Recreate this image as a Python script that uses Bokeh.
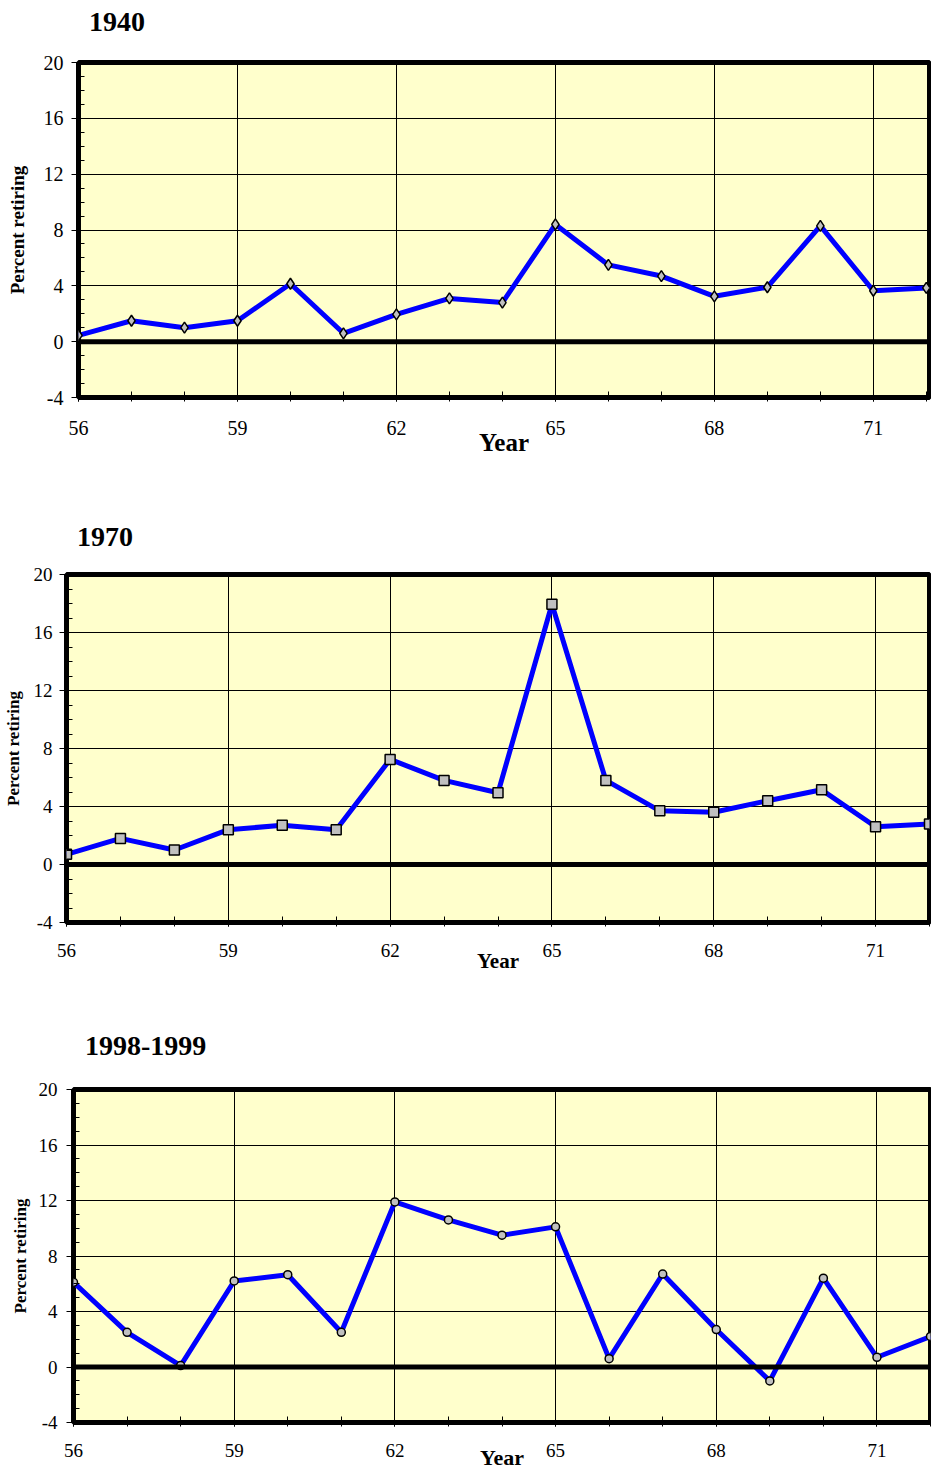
from bokeh.plotting import figure
from bokeh.models import FixedTicker, Span, Range1d, Div
from bokeh.embed import file_html
from bokeh.resources import INLINE

# ---- data ----
years = list(range(56, 73))
pct_1940 = [0.45, 1.5, 1.0, 1.5, 4.15, 0.6, 1.95, 3.1, 2.8, 8.4, 5.5, 4.7, 3.25, 3.9, 8.3, 3.65, 3.85]
pct_1970 = [0.7, 1.8, 1.0, 2.4, 2.7, 2.4, 7.25, 5.8, 4.95, 17.95, 5.8, 3.7, 3.6, 4.4, 5.15, 2.6, 2.8]
pct_1998 = [6.1, 2.5, 0.1, 6.2, 6.65, 2.5, 11.9, 10.6, 9.5, 10.1, 0.6, 6.7, 2.7, -1.0, 6.4, 0.7, 2.2]
titles = ["1940", "1970", "1998-1999"]
x_tick_labels = [56, 59, 62, 65, 68, 71]
y_tick_labels = [-4, 0, 4, 8, 12, 16, 20]
x_label = "Year"
y_label = "Percent retiring"

FONT = "Liberation Serif"


def make_title(title, cfg):
    html = ('<div style="padding-left:%dpx; padding-top:%dpx; font-family:\'Liberation Serif\'; '
            'font-size:%s; font-weight:bold; line-height:1; color:black; white-space:nowrap;">%s</div>'
            % (cfg["tleft"], cfg["ttop"], cfg["title_fs"], title))
    return Div(text=html, width=931, height=cfg["th"], margin=(0, 0, 0, 0))


def make_panel(values, marker, cfg):
    p = figure(width=931, height=cfg["h"], output_backend="svg", toolbar_location=None,
               x_range=Range1d(56, cfg["xmax"]), y_range=Range1d(-4, 20),
               min_border_left=cfg["bl"], min_border_right=cfg["br"],
               min_border_top=cfg["bt"], min_border_bottom=cfg["bb"])
    p.background_fill_color = "#FFFFCC"
    p.border_fill_color = "white"
    p.outline_line_color = "black"
    p.outline_line_width = 5

    # x axis
    xa = p.below[0]
    xa.ticker = FixedTicker(ticks=x_tick_labels, minor_ticks=years)
    xa.axis_line_color = None
    xa.major_tick_in = 6
    xa.major_tick_out = 4
    xa.minor_tick_in = 6
    xa.minor_tick_out = 4
    xa.major_tick_line_color = "black"
    xa.minor_tick_line_color = "black"
    xa.major_label_text_font = FONT
    xa.major_label_text_font_size = cfg["tick_fs"]
    xa.major_label_text_color = "black"
    xa.major_label_standoff = cfg["xstand"]
    xa.axis_label = x_label
    xa.axis_label_text_font = FONT
    xa.axis_label_text_font_style = "bold"
    xa.axis_label_text_font_size = cfg["xlab_fs"]
    xa.axis_label_text_color = "black"
    xa.axis_label_standoff = cfg["xlab_stand"]

    # y axis
    ya = p.left[0]
    ya.ticker = FixedTicker(ticks=y_tick_labels, minor_ticks=list(range(-4, 21)))
    ya.major_label_overrides = {v: str(v) for v in y_tick_labels}
    ya.axis_line_color = None
    ya.major_tick_in = 0
    ya.major_tick_out = 7
    ya.minor_tick_in = 6
    ya.minor_tick_out = 0
    ya.major_tick_line_color = "black"
    ya.minor_tick_line_color = "black"
    ya.major_label_text_font = FONT
    ya.major_label_text_font_size = cfg["tick_fs"]
    ya.major_label_text_color = "black"
    ya.major_label_standoff = cfg["ystand"]
    ya.axis_label = y_label
    ya.axis_label_text_font = FONT
    ya.axis_label_text_font_style = "bold"
    ya.axis_label_text_font_size = cfg["ylab_fs"]
    ya.axis_label_text_color = "black"
    ya.axis_label_standoff = cfg["ylab_stand"]

    p.xgrid.grid_line_color = "black"
    p.xgrid.grid_line_width = 1
    p.ygrid.grid_line_color = "black"
    p.ygrid.grid_line_width = 1

    p.add_layout(Span(location=0, dimension="width", line_color="black", line_width=5))

    p.line(years, values, line_color="#0000FF", line_width=5)
    p.scatter(years, values, marker=marker, size=cfg["msize"], fill_color="#C0C0C0",
              line_color="black", line_width=1.5)
    return p


cfg1 = dict(th=40, tleft=89, ttop=8, h=480, xmax=72.06, bl=78, br=2, bt=22, bb=123,
            tick_fs="20px", xstand=19, ystand=8, ylab_fs="19px", ylab_stand=13, msize=11,
            title_fs="28px", xlab_fs="25px", xlab_stand=-9)
cfg2 = dict(th=40, tleft=77, ttop=3, h=470, xmax=72.0, bl=66, br=2, bt=14, bb=108,
            tick_fs="19px", xstand=17, ystand=7, ylab_fs="17px", ylab_stand=8, msize=10,
            title_fs="28px", xlab_fs="21px", xlab_stand=-11)
cfg3 = dict(th=40, tleft=85, ttop=2, h=404, xmax=72.0, bl=73, br=1, bt=19, bb=52,
            tick_fs="19px", xstand=17, ystand=9, ylab_fs="17px", ylab_stand=6, msize=8,
            title_fs="28px", xlab_fs="22px", xlab_stand=-15)

roots = []
for t, vals, mk, cfg in [(titles[0], pct_1940, "diamond", cfg1),
                         (titles[1], pct_1970, "square", cfg2),
                         (titles[2], pct_1998, "circle", cfg3)]:
    roots.append(make_title(t, cfg))
    roots.append(make_panel(vals, mk, cfg))

open("out.html", "w").write(file_html(roots, INLINE))
